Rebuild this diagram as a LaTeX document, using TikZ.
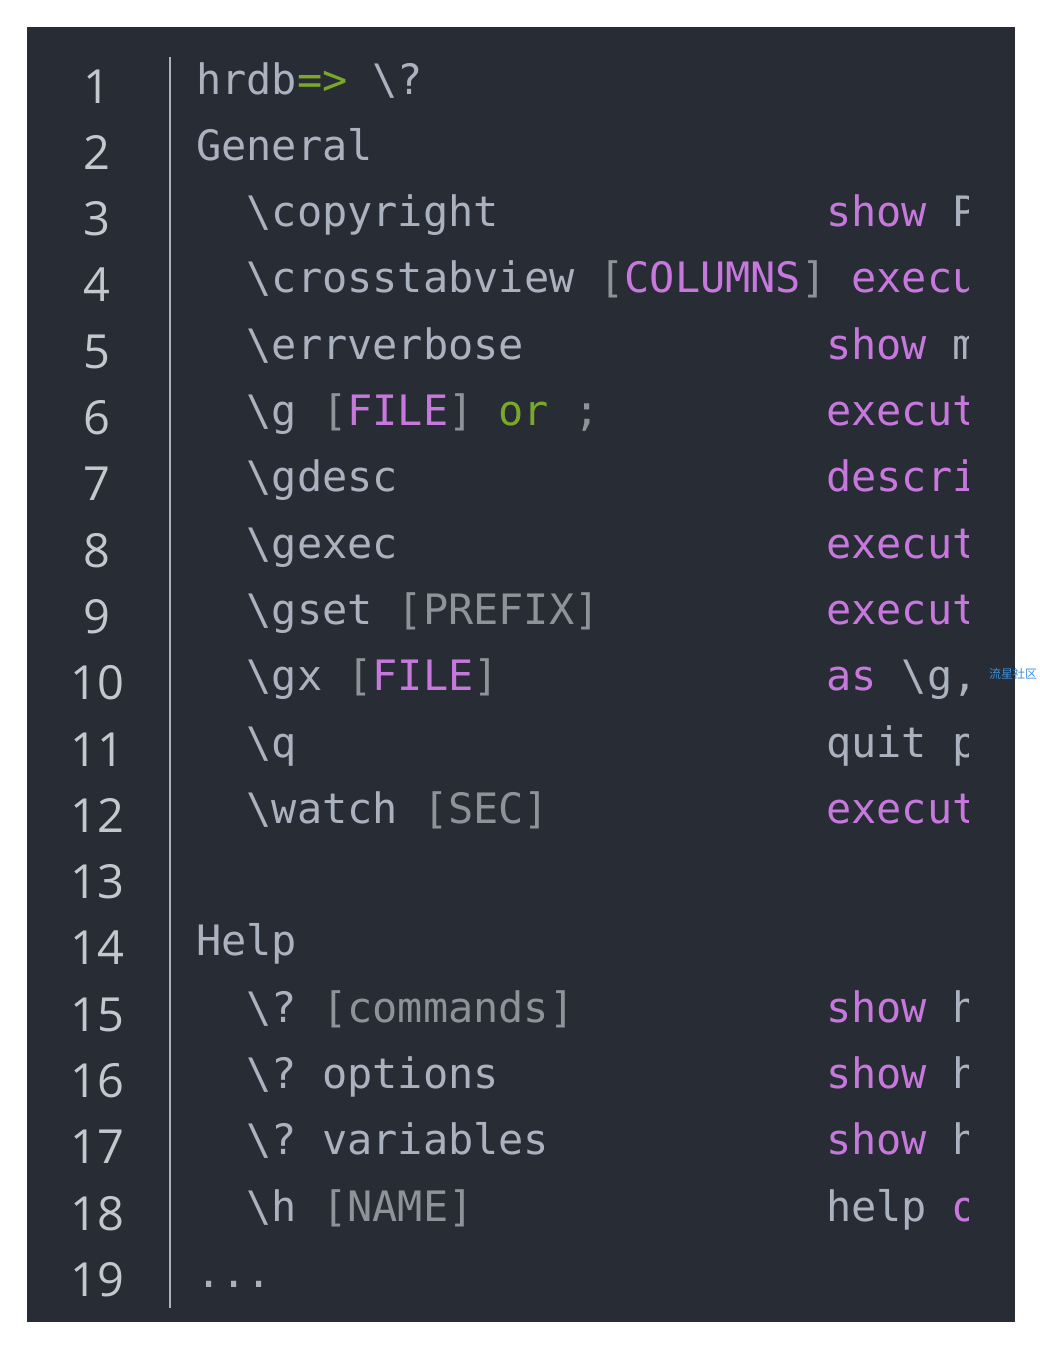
\documentclass[tikz,border=0pt]{standalone}
\usepackage{fontspec}
\setmonofont{DejaVu Sans Mono}
\newfontfamily\numfont{Open Sans}
\newfontfamily\cjk{Noto Sans CJK SC}
\definecolor{bg}{HTML}{282C34}
\definecolor{fg}{HTML}{ABB2BF}
\definecolor{br}{HTML}{8E9299}
\definecolor{pu}{HTML}{C678DD}
\definecolor{gr}{HTML}{7AA82A}
\definecolor{ln}{HTML}{C4C8CE}
\definecolor{wm}{HTML}{3D8FD8}
\tikzset{seg/.style={anchor=base west,inner sep=0pt,font=\fontsize{41.9pt}{44pt}\selectfont\ttfamily},
 num/.style={anchor=base,inner sep=0pt,text=ln,font=\fontsize{47pt}{50pt}\selectfont\numfont}}
\newcommand\sg[4]{\node[seg,text=#3] (s#1x#2) at ({196+25.2*#2}, {-(94+66.3*(#1-1))}) {#4};}
\newcommand\bs{\textbackslash}
\begin{document}
\begin{tikzpicture}[x=1pt,y=1pt]
\useasboundingbox (0,0) rectangle (1039,-1349);
\fill[white] (0,0) rectangle (1039,-1349);
\fill[bg] (27,-27) rectangle (1015,-1322);
\draw[fg,line width=2.5pt] (170,-57) -- (170,-1308);
\foreach \n in {1,...,19} {\node[num] (n\n) at (97,{-(103+66.3*(\n-1))}) {\n};}
\node[inner sep=0pt,text=wm,font=\fontsize{12pt}{14pt}\selectfont\cjk] (wm) at (1013,-674) {流星社区};
\begin{scope}
\clip (27,-27) rectangle (968,-1322);
\sg{1}{0}{fg}{hrdb}\sg{1}{4}{gr}{=>}\sg{1}{7}{fg}{\bs?}
\sg{2}{0}{fg}{General}
\sg{3}{2}{fg}{\bs copyright}\sg{3}{25}{pu}{show}\sg{3}{30}{fg}{PostgreSQL}
\sg{4}{2}{fg}{\bs crosstabview}\sg{4}{16}{br}{[}\sg{4}{17}{pu}{COLUMNS}\sg{4}{24}{br}{]}\sg{4}{26}{pu}{execute}
\sg{5}{2}{fg}{\bs errverbose}\sg{5}{25}{pu}{show}\sg{5}{30}{fg}{most}
\sg{6}{2}{fg}{\bs g}\sg{6}{5}{br}{[}\sg{6}{6}{pu}{FILE}\sg{6}{10}{br}{]}\sg{6}{12}{gr}{or}\sg{6}{15}{br}{;}\sg{6}{25}{pu}{execute}
\sg{7}{2}{fg}{\bs gdesc}\sg{7}{25}{pu}{describe}
\sg{8}{2}{fg}{\bs gexec}\sg{8}{25}{pu}{execute}
\sg{9}{2}{fg}{\bs gset}\sg{9}{8}{br}{[PREFIX]}\sg{9}{25}{pu}{execute}
\sg{10}{2}{fg}{\bs gx}\sg{10}{6}{br}{[}\sg{10}{7}{pu}{FILE}\sg{10}{11}{br}{]}\sg{10}{25}{pu}{as}\sg{10}{28}{fg}{\bs g,}
\sg{11}{2}{fg}{\bs q}\sg{11}{25}{fg}{quit}\sg{11}{30}{fg}{psql}
\sg{12}{2}{fg}{\bs watch}\sg{12}{9}{br}{[SEC]}\sg{12}{25}{pu}{execute}
\sg{14}{0}{fg}{Help}
\sg{15}{2}{fg}{\bs?}\sg{15}{5}{br}{[commands]}\sg{15}{25}{pu}{show}\sg{15}{30}{fg}{help}
\sg{16}{2}{fg}{\bs?}\sg{16}{5}{fg}{options}\sg{16}{25}{pu}{show}\sg{16}{30}{fg}{help}
\sg{17}{2}{fg}{\bs?}\sg{17}{5}{fg}{variables}\sg{17}{25}{pu}{show}\sg{17}{30}{fg}{help}
\sg{18}{2}{fg}{\bs h}\sg{18}{5}{br}{[NAME]}\sg{18}{25}{fg}{help}\sg{18}{30}{pu}{on}
\sg{19}{0}{fg}{...}
\end{scope}
\end{tikzpicture}
\end{document}
